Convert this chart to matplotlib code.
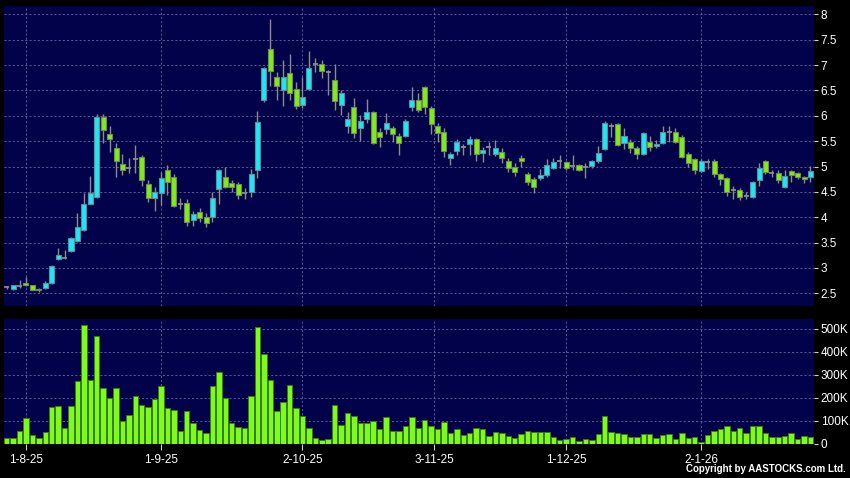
import matplotlib.pyplot as plt
import numpy as np
from matplotlib.ticker import FuncFormatter

# daily candles (Jul 29 2025 .. Jan 2026)
opens = [2.62, 2.59, 2.65, 2.70, 2.66, 2.59, 2.60, 2.71, 3.17, 3.19,
         3.34, 3.53, 3.74, 4.27, 4.39, 5.97, 5.65, 5.36, 5.05, 4.98,
         5.14, 5.18, 4.65, 4.37, 4.47, 4.94, 4.79, 4.27, 4.29, 3.95,
         4.11, 4.01, 4.00, 4.55, 4.80, 4.67, 4.65, 4.47, 4.49, 4.94,
         6.31, 7.31, 6.77, 6.51, 6.85, 6.52, 6.21, 6.52, 7.03, 7.03,
         6.86, 6.71, 6.21, 5.79, 6.18, 5.75, 5.93, 6.08, 5.69, 5.73,
         5.75, 5.61, 5.61, 6.18, 6.32, 6.57, 6.15, 5.79, 5.69, 5.16,
         5.31, 5.38, 5.44, 5.54, 5.26, 5.39, 5.25, 5.29, 5.11, 5.00,
         5.16, 4.85, 4.75, 4.77, 4.83, 4.98, 5.10, 5.08, 5.01, 5.02,
         4.99, 5.01, 5.10, 5.34, 5.79, 5.84, 5.47, 5.49, 5.36, 5.24,
         5.49, 5.40, 5.47, 5.69, 5.69, 5.59, 5.25, 5.14, 4.92, 5.08,
         5.11, 4.85, 4.77, 4.54, 4.54, 4.42, 4.39, 4.73, 5.10, 4.87,
         4.87, 4.60, 4.92, 4.88, 4.80, 4.80]
highs = [2.64, 2.67, 2.76, 2.83, 2.67, 2.60, 2.74, 3.06, 3.39, 3.35,
         3.61, 4.08, 4.48, 4.81, 6.03, 6.03, 5.79, 5.46, 5.25, 5.16,
         5.42, 5.23, 4.73, 4.60, 4.90, 5.03, 4.85, 4.37, 4.35, 4.13,
         4.18, 4.08, 4.50, 4.95, 4.99, 4.73, 4.70, 4.57, 4.95, 6.10,
         6.97, 7.90, 6.87, 7.10, 7.21, 6.67, 6.76, 7.28, 7.13, 7.10,
         6.90, 7.02, 6.51, 6.08, 6.36, 6.02, 6.33, 6.10, 5.75, 6.05,
         5.79, 5.66, 5.94, 6.56, 6.44, 6.59, 6.19, 5.85, 5.75, 5.29,
         5.55, 5.44, 5.60, 5.56, 5.39, 5.49, 5.53, 5.36, 5.16, 5.07,
         5.23, 4.90, 4.80, 4.96, 5.14, 5.17, 5.23, 5.11, 5.23, 5.04,
         5.07, 5.13, 5.40, 5.90, 5.86, 5.86, 5.76, 5.55, 5.40, 5.68,
         5.60, 5.53, 5.79, 5.80, 5.75, 5.62, 5.28, 5.16, 5.14, 5.14,
         5.14, 4.87, 4.80, 4.61, 4.57, 4.49, 4.72, 5.06, 5.12, 4.93,
         4.93, 4.94, 4.94, 4.90, 4.82, 5.01]
lows = [2.59, 2.57, 2.60, 2.65, 2.56, 2.53, 2.59, 2.69, 3.16, 3.17,
        3.31, 3.52, 3.72, 4.26, 4.37, 5.47, 5.29, 4.80, 4.83, 4.88,
        4.88, 4.62, 4.31, 4.13, 4.24, 4.44, 4.21, 4.16, 3.83, 3.83,
        3.91, 3.81, 3.91, 4.27, 4.57, 4.50, 4.35, 4.35, 4.40, 4.78,
        6.28, 6.59, 6.31, 6.19, 6.31, 6.13, 6.15, 6.51, 6.87, 6.74,
        6.41, 6.11, 6.02, 5.67, 5.56, 5.51, 5.85, 5.44, 5.39, 5.65,
        5.49, 5.23, 5.58, 6.10, 6.07, 6.03, 5.65, 5.49, 5.19, 5.03,
        5.23, 5.23, 5.23, 5.10, 5.08, 5.23, 5.21, 5.06, 4.90, 4.82,
        4.99, 4.64, 4.48, 4.74, 4.80, 4.95, 4.98, 4.93, 4.93, 4.92,
        4.78, 4.98, 5.07, 5.32, 5.58, 5.40, 5.34, 5.27, 5.14, 5.22,
        5.30, 5.36, 5.44, 5.49, 5.47, 5.16, 5.00, 4.86, 4.90, 4.96,
        4.80, 4.64, 4.42, 4.35, 4.33, 4.36, 4.37, 4.62, 4.86, 4.80,
        4.67, 4.58, 4.69, 4.75, 4.68, 4.70]
closes = [2.62, 2.66, 2.65, 2.66, 2.57, 2.56, 2.70, 3.04, 3.25, 3.19,
          3.60, 3.81, 4.27, 4.47, 5.97, 5.72, 5.54, 5.10, 4.93, 4.98,
          5.14, 4.74, 4.37, 4.50, 4.77, 4.70, 4.23, 4.27, 3.90, 4.06,
          3.98, 3.88, 4.37, 4.94, 4.59, 4.59, 4.44, 4.47, 4.85, 5.88,
          6.94, 6.88, 6.59, 6.77, 6.45, 6.19, 6.38, 6.94, 7.03, 6.88,
          6.86, 6.29, 6.44, 5.94, 5.67, 5.90, 6.08, 5.46, 5.58, 5.85,
          5.64, 5.46, 5.90, 6.32, 6.11, 6.17, 5.84, 5.67, 5.31, 5.25,
          5.49, 5.38, 5.55, 5.25, 5.33, 5.39, 5.36, 5.16, 4.98, 4.90,
          5.10, 4.70, 4.59, 4.83, 5.03, 5.08, 5.10, 4.98, 5.01, 4.94,
          4.99, 5.10, 5.27, 5.86, 5.79, 5.42, 5.60, 5.36, 5.24, 5.66,
          5.38, 5.44, 5.69, 5.69, 5.49, 5.18, 5.06, 4.94, 5.11, 5.08,
          4.85, 4.75, 4.49, 4.54, 4.39, 4.42, 4.70, 4.98, 4.90, 4.87,
          4.73, 4.82, 4.83, 4.79, 4.75, 4.92]
volumes_k = [25, 25, 54, 113, 38, 23, 51, 160, 164, 68,
             166, 273, 515, 275, 470, 241, 200, 241, 99, 126,
             206, 170, 160, 193, 251, 156, 148, 57, 144, 90,
             60, 45, 250, 311, 199, 89, 74, 70, 209, 507,
             388, 279, 142, 180, 257, 157, 122, 68, 23, 16,
             20, 169, 80, 135, 121, 92, 89, 100, 65, 115,
             55, 54, 76, 116, 70, 105, 77, 65, 93, 45,
             62, 36, 47, 67, 62, 35, 49, 45, 33, 23,
             42, 57, 52, 49, 49, 31, 17, 22, 31, 12,
             22, 17, 44, 119, 52, 45, 41, 28, 28, 42,
             41, 23, 38, 41, 19, 48, 23, 28, 6, 38,
             55, 65, 76, 55, 67, 48, 76, 78, 45, 29,
             31, 32, 45, 22, 35, 29]

tick_pos = [3, 24, 46, 66.5, 87, 108]
tick_labels = ['1-8-25', '1-9-25', '2-10-25', '3-11-25', '1-12-25', '2-1-26']

o = np.array(opens)
h = np.array(highs)
l = np.array(lows)
c = np.array(closes)
v = np.array(volumes_k) * 1000
x = np.arange(len(o))

up = c > o
down = c < o
flat = c == o

bg = '#02024a'
grid_col = '#6a6a9c'
cyan = '#1ee6f2'
green = '#80ea1e'
wick = '#8c8c8c'
plt.rcParams['font.family'] = ['Liberation Sans', 'DejaVu Sans']

fig = plt.figure(figsize=(8.5, 4.78), dpi=100, facecolor='black')
ax1 = fig.add_axes([4 / 850, 1 - 306 / 478, 809.7 / 850, 300.3 / 478])
ax2 = fig.add_axes([4 / 850, 1 - 444 / 478, 809.7 / 850, 125 / 478])

for ax in (ax1, ax2):
    ax.set_facecolor(bg)
    for s in ax.spines.values():
        s.set_visible(False)
    ax.set_xlim(-0.42, 125.5)
    ax.yaxis.tick_right()
    ax.grid(True, axis='y', color=grid_col, linestyle=(0, (2.5, 2.5)), linewidth=0.6)
    for p in tick_pos:
        ax.axvline(p, color=grid_col, linestyle=(0, (2.5, 2.5)), linewidth=0.6, zorder=0.5)
    ax.set_axisbelow(True)
    ax.tick_params(axis='y', colors='#d0d0d0', labelcolor='white', labelsize=8.5,
                   length=3, width=0.8, pad=2)

# price candles
w = 0.78
ax1.vlines(x, l, h, color=wick, linewidth=1, zorder=2)
ax1.bar(x[up], (c - o)[up], bottom=o[up], width=w, color=cyan,
        edgecolor='#5d8e99', linewidth=0.8, zorder=3)
ax1.bar(x[down], (o - c)[down], bottom=c[down], width=w, color=green,
        edgecolor='#6f8f4a', linewidth=0.8, zorder=3)
ax1.hlines(c[flat], x[flat] - w / 2, x[flat] + w / 2, color=wick, linewidth=1.3, zorder=3)

ax1.set_ylim(2.25, 8.17)
ax1.set_yticks(np.arange(2.5, 8.01, 0.5))
ax1.yaxis.set_major_formatter(FuncFormatter(lambda val, pos: '%g' % val))
ax1.set_xticks([])

# volume
ax2.bar(x, v, width=0.85, color='#7cfc1c', edgecolor='#3d7a12', linewidth=0.7, zorder=3)
ax2.set_ylim(-1000, 542000)
ax2.set_yticks(np.arange(0, 500001, 100000))
ax2.yaxis.set_major_formatter(FuncFormatter(lambda val, pos: '0' if val == 0 else '%dK' % (val / 1000)))
ax2.set_xticks(tick_pos)
ax2.set_xticklabels(tick_labels)
ax2.tick_params(axis='x', colors='#d0d0d0', labelcolor='white', labelsize=8.5,
                length=4, width=0.8, pad=3)

fig.text(0.995, 0.008, 'Copyright by AASTOCKS.com Ltd.', ha='right', va='bottom',
         color='white', fontsize=7, fontweight='bold')

fig.savefig('out.png', dpi=100, facecolor='black')
